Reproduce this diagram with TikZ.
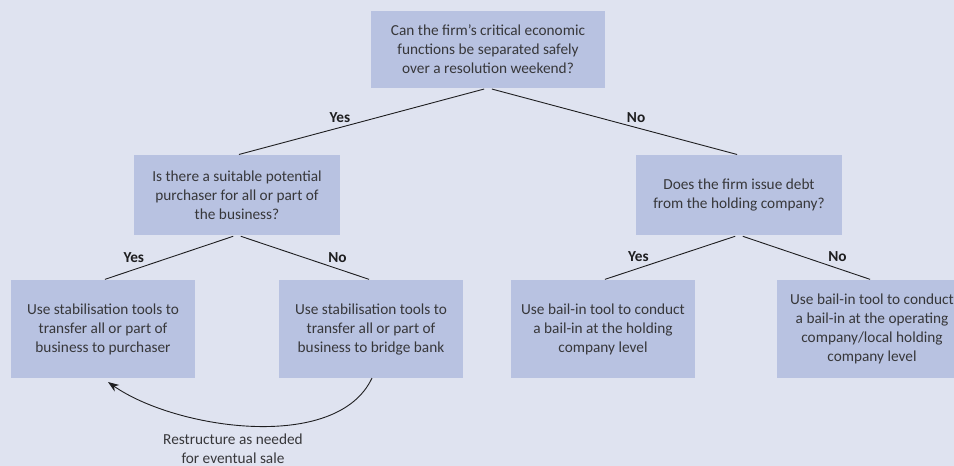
\documentclass[tikz,border=0pt]{standalone}
\usepackage{fontspec}
\setmainfont{Carlito}
\usetikzlibrary{arrows.meta}

\definecolor{paper}{RGB}{223,227,240}
\definecolor{boxfill}{RGB}{184,194,225}
\definecolor{ink}{RGB}{55,55,58}
\definecolor{wire}{RGB}{30,30,32}

\newcommand{\chartfont}{\fontsize{15.3}{19}\selectfont}

\tikzset{
  box/.style={fill=boxfill, text=ink, align=center, inner sep=0pt, outer sep=0pt},
  question/.style={box, minimum width=206pt, minimum height=80pt},
  outcome/.style={box, minimum width=184pt, minimum height=98pt},
  branch/.style={wire, line width=0.9pt, shorten <=4pt, shorten >=2pt},
  answer/.style={text=wire, font=\chartfont\bfseries, inner sep=0pt}
}

\begin{document}
\begin{tikzpicture}[x=1pt,y=1pt,font=\chartfont]
      \fill[paper] (0,0) rectangle (954,-466);
      \useasboundingbox (0,0) rectangle (954,-466);
      \clip (0,0) rectangle (954,-466);

      %%%%%%%%%%%%%%%%%%%%%%%%%%%%%%%%%%%%%%%%%%%%%%%%%%%%%%%%%%%%%%%%%%%%%%%%%%%
      %%%%  Questions
      \node[question, minimum width=234pt, minimum height=77pt] (sep) at (488,-49.5)
        {Can the firm’s critical economic\\functions be separated safely\\over a resolution weekend?};
      \node[question] (buyer) at (237,-195)
        {Is there a suitable potential\\purchaser for all or part of\\the business?};
      \node[question] (holdco) at (739,-195)
        {Does the firm issue debt\\from the holding company?};

      %%%%%%%%%%%%%%%%%%%%%%%%%%%%%%%%%%%%%%%%%%%%%%%%%%%%%%%%%%%%%%%%%%%%%%%%%%%
      %%%%  Outcomes
      \node[outcome] (sale) at (103,-329)
        {Use stabilisation tools to\\transfer all or part of\\business to purchaser};
      \node[outcome] (bridge) at (371,-329)
        {Use stabilisation tools to\\transfer all or part of\\business to bridge bank};
      \node[outcome] (bailhold) at (603,-329)
        {Use bail-in tool to conduct\\a bail-in at the holding\\company level};
      \node[outcome, minimum width=190pt] (bailop) at (872,-329)
        {Use bail-in tool to conduct\\a bail-in at the operating\\company/local holding\\company level};

      %%%%%%%%%%%%%%%%%%%%%%%%%%%%%%%%%%%%%%%%%%%%%%%%%%%%%%%%%%%%%%%%%%%%%%%%%%%
      %%%%  Branches
      \draw[branch] (sep.south) -- (buyer.north)
        node[answer, pos=0.59, above=4.5pt] {Yes};
      \draw[branch] (sep.south) -- (holdco.north)
        node[answer, pos=0.59, above=4.5pt] {No};

      \draw[branch] (buyer.south) -- (sale.north)
        node[answer, pos=0.77, above=7pt] {Yes};
      \draw[branch] (buyer.south) -- (bridge.north)
        node[answer, pos=0.75, above=6pt] {No};

      \draw[branch] (holdco.south) -- (bailhold.north)
        node[answer, pos=0.74, above=6pt] {Yes};
      \draw[branch] (holdco.south) -- (bailop.north)
        node[answer, pos=0.74, above=6pt] {No};

      % loop back from the bridge bank to a sale
      \draw[wire, line width=0.9pt, -{Stealth[length=11pt,width=8pt]}]
        ([xshift=1pt]bridge.south) to[out=-115, in=-35, looseness=0.8]
        ([shift={(5pt,-4pt)}]sale.south);
      \node[text=ink, align=center, inner sep=0pt] (restructure) at (233,-449)
        {Restructure as needed\\for eventual sale};
\end{tikzpicture}
\end{document}
